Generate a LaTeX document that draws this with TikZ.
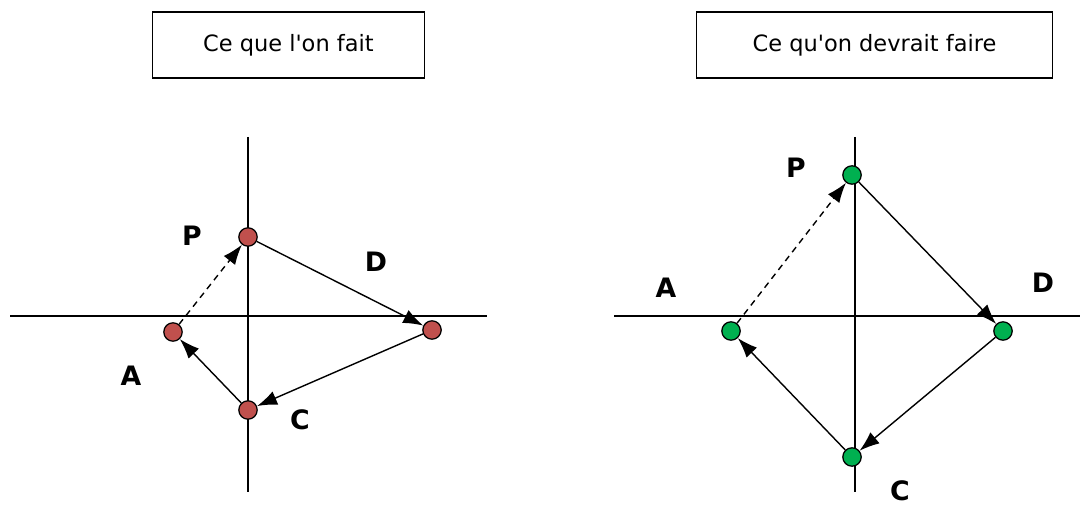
\documentclass[tikz,border=0pt]{standalone}
\usepackage{fontspec}
\setmainfont{DejaVu Sans}
\usetikzlibrary{arrows.meta, positioning}
\definecolor{DR}{RGB}{192,80,77}
\definecolor{DGn}{RGB}{0,176,80}

\begin{document}
\begin{tikzpicture}[
  titre/.style={draw, line width=1pt, minimum width=#1, minimum height=1.65cm,
                font=\fontsize{16}{18}\selectfont},
  pt/.style={circle, draw, line width=0.9pt, fill=#1, inner sep=0pt, minimum size=0.46cm},
  lbl/.style={font=\fontsize{19}{21}\selectfont\bfseries},
  axe/.style={draw, line width=1pt},
  fl/.style={draw, line width=1pt, -{Latex[length=5mm,width=3.6mm]}},
  fld/.style={fl, dash pattern=on 4.5pt off 3.5pt}
]
\useasboundingbox (0,0) rectangle (27,12.7);

% Ce que l'on fait
\node[titre=6.8cm] (t1) at (7.21,11.575) {Ce que l\textquotesingle on fait};
\draw[axe] (0.25,4.8) -- (12.175,4.8);
\draw[axe] (6.2,9.275) -- (6.2,0.4);
\node[pt=DR] (p1) at (6.2,6.775) {};
\node[pt=DR] (d1) at (10.8,4.45) {};
\node[pt=DR] (c1) at (6.2,2.45) {};
\node[pt=DR] (a1) at (4.325,4.4) {};
\node[lbl] at (4.8,6.8) {P};
\node[lbl] at (9.4,6.15) {D};
\node[lbl] at (7.5,2.2) {C};
\node[lbl] at (3.275,3.3) {A};
\draw[fld] (a1) -- (p1);
\draw[fl] (p1) -- (d1);
\draw[fl] (d1) -- (c1);
\draw[fl] (c1) -- (a1);

% Ce qu'on devrait faire
\node[titre=8.9cm] (t2) at (21.8625,11.575) {Ce qu\textquotesingle on devrait faire};
\draw[axe] (15.35,4.8) -- (27,4.8);
\draw[axe] (21.375,9.275) -- (21.375,0.4);
\node[pt=DGn] (p2) at (21.3,8.325) {};
\node[pt=DGn] (d2) at (25.075,4.425) {};
\node[pt=DGn] (c2) at (21.3,1.275) {};
\node[pt=DGn] (a2) at (18.275,4.425) {};
\node[lbl] at (19.9,8.5) {P};
\node[lbl] at (26.075,5.625) {D};
\node[lbl] at (22.5,0.42) {C};
\node[lbl] at (16.65,5.5) {A};
\draw[fld] (a2) -- (p2);
\draw[fl] (p2) -- (d2);
\draw[fl] (d2) -- (c2);
\draw[fl] (c2) -- (a2);
\end{tikzpicture}
\end{document}
